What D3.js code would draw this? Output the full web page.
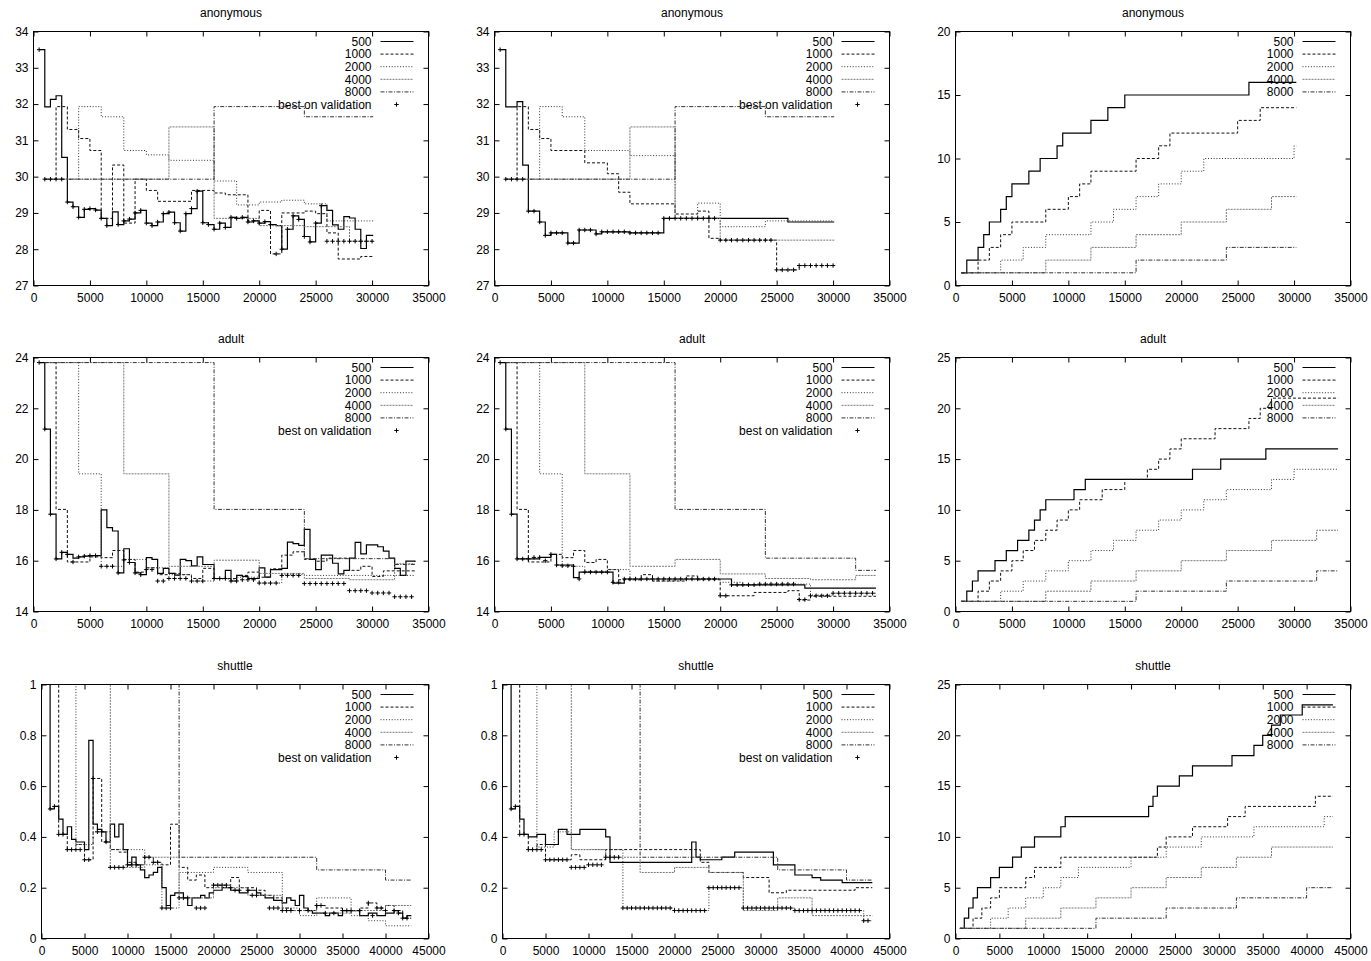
<!DOCTYPE html>
<html>
<head>
<meta charset="utf-8">
<script src="https://cdn.jsdelivr.net/npm/d3@7"></script>
<style>
body { margin: 0; background: #fff; }
svg text { font-family: "Liberation Sans", Arial, sans-serif; font-size: 12px; fill: #000; }
</style>
</head>
<body>
<div id="chart"></div>
<script>
// ---- tick labels ----
const xTicks35 = [0, 5000, 10000, 15000, 20000, 25000, 30000, 35000];
const xTicks45 = [0, 5000, 10000, 15000, 20000, 25000, 30000, 35000, 40000, 45000];
const yTicksAnon = [27, 28, 29, 30, 31, 32, 33, 34];
const yTicksAdult = [14, 16, 18, 20, 22, 24];
const yTicksShuttle = [0, 0.2, 0.4, 0.6, 0.8, 1];
const yTicks20 = [0, 5, 10, 15, 20];
const yTicks25 = [0, 5, 10, 15, 20, 25];

const seriesLabels = ["500", "1000", "2000", "4000", "8000"];
const bestLabel = "best on validation";

// ---- anonymous, column 1 ----
const anonA_500 = [[500,33.5],[1000,31.92],[1500,32.13],[2000,32.23],[2500,30.53],[3000,29.3],[3500,29.17],[4000,28.88],[4500,29.1],[5000,29.12],[5500,29.08],[6000,28.85],[6500,28.65],[7000,29.03],[7500,28.68],[8000,28.78],[8500,28.83],[9000,29.0],[9500,29.07],[10000,28.72],[10500,28.65],[11000,28.75],[11500,28.98],[12000,29.02],[12500,28.73],[13000,28.5],[13500,28.98],[14000,29.12],[14500,29.6],[15000,28.73],[15500,28.68],[16000,28.55],[16500,28.72],[17000,28.6],[17500,28.88],[18000,28.85],[18500,28.88],[19000,28.75],[19500,28.78],[20000,28.72],[20500,28.76],[21000,28.68],[21500,28.65],[22000,28.0],[22500,28.55],[23000,28.92],[23500,28.82],[24000,28.35],[24500,28.2],[25000,28.72],[25500,29.2],[26000,29.07],[26500,28.67],[27000,28.55],[27500,28.9],[28000,28.86],[28500,28.55],[29000,28.02],[29500,28.38],[30100,28.38]];
const anonA_1000 = [[1000,29.93],[2000,31.93],[3000,31.3],[4000,31.05],[5000,30.72],[6000,28.85],[7000,30.32],[8000,28.72],[9000,29.93],[10000,29.62],[11000,29.32],[14000,29.62],[16000,29.55],[17000,29.5],[19000,28.78],[20000,29.07],[21000,27.87],[22000,29.0],[24000,29.05],[25000,28.98],[26000,28.45],[27000,27.73],[29000,27.8],[30100,27.8]];
const anonA_2000 = [[2000,29.93],[4000,31.93],[6000,31.65],[8000,30.72],[10000,30.6],[12000,30.45],[16000,29.88],[18000,29.22],[20000,29.3],[22000,29.35],[24000,29.25],[26000,28.78],[30100,28.78]];
const anonA_4000 = [[1000,29.93],[12000,31.37],[16000,28.85],[20000,28.65],[24000,28.62],[28000,28.22],[30100,28.22]];
const anonA_8000 = [[1000,29.93],[16000,31.93],[24000,31.65],[30100,31.65]];
const anonA_best = [[500,33.5],[1000,29.93],[1500,29.93],[2000,29.93],[2500,29.93],[3000,29.3],[3500,29.17],[4000,28.88],[4500,29.1],[5000,29.12],[5500,29.08],[6000,28.85],[6500,28.65],[7500,28.68],[8000,28.78],[8500,28.83],[9000,29.0],[9500,29.07],[10000,28.72],[10500,28.65],[11000,28.75],[11500,28.98],[12000,29.02],[12500,28.73],[13000,28.5],[13500,28.98],[14000,29.12],[14500,29.6],[15000,28.73],[15500,28.68],[16000,28.55],[16500,28.72],[17000,28.6],[17500,28.88],[18000,28.85],[18500,28.88],[19000,28.75],[19500,28.78],[20000,28.72],[20500,28.76],[21000,28.68],[21500,27.87],[22000,28.0],[22500,28.55],[23000,28.92],[23500,28.82],[24000,28.35],[24500,28.2],[25000,28.72],[25500,29.2],[26000,28.22],[26500,28.22],[27000,28.22],[27500,28.22],[28000,28.22],[28500,28.22],[29000,28.22],[29500,28.22],[30000,28.22]];

// ---- anonymous, column 2 ----
const anonB_500 = [[500,33.5],[1000,31.92],[2000,32.07],[2500,30.32],[3000,29.05],[4000,28.75],[4500,28.38],[5000,28.45],[6500,28.17],[7500,28.53],[9000,28.42],[9500,28.48],[12000,28.45],[15000,28.85],[26000,28.75],[30100,28.75]];
const anonB_1000 = [[1000,29.93],[2000,31.93],[3000,31.3],[4000,31.05],[5000,30.72],[8000,30.38],[10000,30.08],[11000,29.57],[12000,29.25],[16000,28.97],[18000,29.05],[19000,28.3],[20000,28.25],[25000,27.43],[27000,27.55],[30100,27.55]];
const anonB_2000 = [[2000,29.93],[4000,31.93],[6000,31.65],[8000,30.72],[12000,30.58],[16000,28.85],[18000,29.27],[20000,28.62],[24000,28.78],[30100,28.78]];
const anonB_4000 = [[1000,29.93],[12000,31.37],[16000,28.85],[20000,28.25],[30100,28.25]];
const anonB_8000 = [[1000,29.93],[16000,31.93],[24000,31.65],[30100,31.65]];
const anonB_best = [[500,33.5],[1000,29.93],[1500,29.93],[2000,29.93],[2500,29.93],[3000,29.05],[3500,29.05],[4000,28.75],[4500,28.38],[5000,28.45],[5500,28.45],[6000,28.45],[6500,28.17],[7000,28.17],[7500,28.53],[8000,28.53],[8500,28.53],[9000,28.42],[9500,28.48],[10000,28.48],[10500,28.48],[11000,28.48],[11500,28.48],[12000,28.45],[12500,28.45],[13000,28.45],[13500,28.45],[14000,28.45],[14500,28.45],[15000,28.85],[15500,28.85],[16000,28.85],[16500,28.85],[17000,28.85],[17500,28.85],[18000,28.85],[18500,28.85],[19000,28.85],[19500,28.85],[20000,28.25],[20500,28.25],[21000,28.25],[21500,28.25],[22000,28.25],[22500,28.25],[23000,28.25],[23500,28.25],[24000,28.25],[24500,28.25],[25000,27.43],[25500,27.43],[26000,27.43],[26500,27.43],[27000,27.55],[27500,27.55],[28000,27.55],[28500,27.55],[29000,27.55],[29500,27.55],[30000,27.55]];

// ---- anonymous, column 3 ----
const anonC_500 = [[500,1],[1000,2],[2000,3],[2500,4],[3000,5],[4000,6],[4500,7],[5000,8],[6500,9],[7500,10],[9000,11],[9500,12],[12000,13],[13500,14],[15000,15],[26000,16],[30200,16]];
const anonC_1000 = [[500,1],[2000,2],[3000,3],[4000,4],[5000,5],[8000,6],[10000,7],[11000,8],[12000,9],[16000,10],[18000,11],[19000,12],[25000,13],[27000,14],[30200,14]];
const anonC_2000 = [[500,1],[4000,2],[6000,3],[8000,4],[12000,5],[14000,6],[16000,7],[18000,8],[20000,9],[22000,10],[30000,11],[30200,11]];
const anonC_4000 = [[500,1],[8000,2],[12000,3],[16000,4],[20000,5],[24000,6],[28000,7],[30200,7]];
const anonC_8000 = [[500,1],[16000,2],[24000,3],[30200,3]];

// ---- adult, column 1 ----
const adultA_500 = [[500,23.8],[1000,21.18],[1500,17.83],[2000,16.07],[2500,16.33],[3000,16.25],[3500,16.1],[4000,16.15],[4500,16.18],[5000,16.2],[6000,18.0],[6500,17.3],[7000,17.17],[7500,15.52],[8000,16.47],[8500,15.93],[9000,15.52],[9500,15.45],[10000,16.12],[10500,16.05],[11000,15.5],[11500,15.7],[12000,15.5],[12500,15.43],[13000,16.05],[13500,16.0],[14000,15.8],[14500,16.15],[15000,15.85],[16000,15.3],[17000,15.62],[17500,15.2],[18000,15.42],[18500,15.38],[19000,15.3],[20000,15.72],[20500,15.35],[21000,15.65],[22000,15.7],[22500,16.73],[23000,16.67],[23500,16.6],[24000,17.23],[24500,16.05],[25000,15.65],[25500,16.22],[26500,15.9],[27000,15.48],[27500,15.62],[28000,16.1],[28500,16.72],[29000,16.27],[29500,16.62],[30500,16.55],[31000,16.38],[31500,16.1],[32000,15.7],[32500,15.42],[33000,15.98],[33800,15.95]];
const adultA_1000 = [[1000,23.8],[2000,18.02],[3000,15.95],[5000,16.15],[6000,16.12],[7000,16.4],[8000,16.05],[9000,15.55],[10000,15.72],[11000,15.45],[12000,15.5],[13000,15.45],[14000,15.3],[15000,15.7],[16000,15.3],[18000,15.42],[19000,15.55],[20000,15.35],[21000,15.68],[22000,16.22],[23000,16.35],[24000,16.05],[25000,15.98],[26000,16.1],[28000,15.62],[29000,15.78],[30000,15.38],[31000,15.6],[33800,15.6]];
const adultA_2000 = [[1000,23.8],[4000,19.42],[6000,15.78],[8000,16.05],[10000,15.72],[12000,15.45],[14000,15.2],[16000,15.28],[18000,15.35],[20000,15.12],[22000,15.45],[24000,15.42],[33800,15.42]];
const adultA_4000 = [[1000,23.8],[8000,19.42],[12000,15.78],[16000,16.02],[20000,15.5],[24000,15.3],[28000,15.25],[32000,15.88],[33800,15.88]];
const adultA_8000 = [[1000,23.8],[16000,18.02],[24000,16.08],[32000,15.85],[33800,15.85]];
const adultA_best = [[500,23.8],[1000,21.18],[1500,17.83],[2000,16.07],[2500,16.33],[3000,16.25],[3500,15.95],[4000,16.15],[4500,16.18],[5000,16.2],[5500,16.2],[6000,15.78],[6500,15.78],[7000,15.78],[7500,15.52],[8000,16.03],[8500,15.93],[9000,15.52],[9500,15.45],[10000,15.65],[10500,15.65],[11000,15.2],[11500,15.2],[12000,15.3],[12500,15.3],[13000,15.3],[13500,15.3],[14000,15.2],[14500,15.2],[15000,15.2],[16000,15.3],[16500,15.3],[17000,15.3],[17500,15.2],[18000,15.2],[18500,15.25],[19000,15.25],[19500,15.25],[20000,15.12],[20500,15.12],[21000,15.12],[21500,15.12],[22000,15.42],[22500,15.42],[23000,15.42],[23500,15.42],[24000,15.1],[24500,15.1],[25000,15.1],[25500,15.1],[26000,15.1],[26500,15.1],[27000,15.1],[27500,15.1],[28000,14.82],[28500,14.82],[29000,14.82],[29500,14.82],[30000,14.73],[30500,14.73],[31000,14.73],[31500,14.73],[32000,14.58],[32500,14.58],[33000,14.58],[33500,14.58]];

// ---- adult, column 2 ----
const adultB_500 = [[500,23.8],[1000,21.18],[1500,17.83],[2000,16.07],[4000,16.13],[5000,16.25],[5500,15.83],[7000,15.33],[7500,15.55],[10500,15.12],[11500,15.28],[21000,15.05],[27500,14.92],[33800,14.92]];
const adultB_1000 = [[1000,23.8],[2000,18.02],[3000,15.95],[5000,16.25],[6000,16.12],[7000,16.4],[8000,15.93],[9000,16.05],[10000,15.65],[11000,15.25],[13000,15.45],[14000,15.2],[17000,15.4],[18000,15.25],[20000,14.62],[23000,14.75],[26000,14.82],[27000,14.45],[28000,14.6],[33800,14.6]];
const adultB_2000 = [[1000,23.8],[4000,19.42],[6000,15.78],[8000,15.58],[10000,15.65],[12000,15.25],[14000,15.2],[16000,15.25],[18000,15.3],[20000,15.15],[22000,15.05],[24000,15.08],[28000,14.65],[30000,14.72],[33800,14.72]];
const adultB_4000 = [[1000,23.8],[8000,19.42],[12000,15.78],[16000,16.05],[20000,15.48],[24000,15.3],[28000,15.25],[32000,15.42],[33800,15.42]];
const adultB_8000 = [[1000,23.8],[16000,18.02],[24000,16.1],[32000,15.62],[33800,15.62]];
const adultB_best = [[500,23.8],[1000,21.18],[1500,17.83],[2000,16.07],[2500,16.07],[3000,16.07],[3500,16.13],[4000,16.13],[4500,16.0],[5000,16.25],[5500,15.83],[6000,15.8],[6500,15.8],[7000,15.78],[7500,15.28],[8000,15.55],[8500,15.55],[9000,15.55],[9500,15.55],[10000,15.55],[10500,15.15],[11000,15.15],[11500,15.28],[12000,15.28],[12500,15.28],[13000,15.28],[13500,15.28],[14000,15.28],[14500,15.28],[15000,15.28],[15500,15.28],[16000,15.28],[16500,15.28],[17000,15.28],[17500,15.28],[18000,15.28],[18500,15.28],[19000,15.28],[19500,15.28],[20000,14.62],[20500,14.62],[21000,15.05],[21500,15.05],[22000,15.05],[22500,15.05],[23000,15.05],[23500,15.08],[24000,15.08],[24500,15.08],[25000,15.08],[25500,15.08],[26000,15.08],[26500,15.08],[27000,14.47],[27500,14.47],[28000,14.62],[28500,14.62],[29000,14.62],[29500,14.62],[30000,14.72],[30500,14.72],[31000,14.72],[31500,14.72],[32000,14.72],[32500,14.72],[33000,14.72],[33500,14.72]];

// ---- adult, column 3 ----
const adultC_500 = [[500,1],[1000,2],[1500,3],[2000,4],[3500,5],[4500,6],[5500,7],[6500,8],[7000,9],[7500,10],[8000,11],[10500,12],[11500,13],[21000,14],[23500,15],[27500,16],[33900,16]];
const adultC_1000 = [[500,1],[2000,2],[3000,3],[4000,4],[5000,5],[6000,6],[7000,7],[8000,8],[9000,9],[10000,10],[11000,11],[13000,12],[15000,13],[17000,14],[18000,15],[19000,16],[20000,17],[23000,18],[26000,19],[27000,20],[28000,21],[33900,21]];
const adultC_2000 = [[500,1],[4000,2],[6000,3],[8000,4],[10000,5],[12000,6],[14000,7],[16000,8],[18000,9],[20000,10],[22000,11],[24000,12],[28000,13],[30000,14],[33900,14]];
const adultC_4000 = [[500,1],[8000,2],[12000,3],[16000,4],[20000,5],[24000,6],[28000,7],[32000,8],[33900,8]];
const adultC_8000 = [[500,1],[16000,2],[24000,3],[32000,4],[33900,4]];

// ---- shuttle, column 1 ----
const shuttleA_500 = [[500,1.3],[1000,0.51],[1500,0.52],[2000,0.47],[2500,0.41],[3000,0.44],[3500,0.39],[4000,0.38],[5000,0.35],[5500,0.78],[6000,0.45],[6500,0.43],[7000,0.42],[7500,0.38],[8000,0.45],[8500,0.4],[9000,0.45],[9500,0.35],[10000,0.29],[10500,0.32],[11000,0.29],[11500,0.27],[12000,0.24],[12500,0.25],[13000,0.26],[13500,0.28],[14000,0.2],[14500,0.13],[15000,0.17],[15500,0.18],[16500,0.16],[17000,0.13],[17500,0.16],[18500,0.17],[19000,0.16],[19500,0.18],[20000,0.19],[21000,0.2],[22000,0.19],[23000,0.18],[24000,0.19],[25000,0.18],[25500,0.17],[26000,0.16],[27000,0.15],[28000,0.14],[28500,0.16],[29000,0.15],[29500,0.13],[30000,0.17],[30500,0.12],[31000,0.11],[31500,0.1],[33000,0.09],[33500,0.1],[34500,0.09],[35000,0.11],[36500,0.11],[37000,0.09],[38000,0.1],[39000,0.09],[40000,0.1],[41000,0.11],[41500,0.1],[42000,0.08],[42500,0.09],[43000,0.09]];
const shuttleA_1000 = [[1000,1.3],[2000,0.41],[3000,0.35],[4000,0.37],[5000,0.31],[6000,0.63],[7000,0.38],[8000,0.35],[9000,0.34],[10000,0.3],[11000,0.29],[12000,0.32],[13000,0.3],[14000,0.29],[15000,0.45],[16000,0.28],[17000,0.23],[18000,0.25],[19000,0.2],[20000,0.21],[22000,0.24],[23000,0.2],[25000,0.19],[26000,0.17],[27000,0.16],[28000,0.12],[29000,0.11],[32000,0.13],[33000,0.12],[35000,0.11],[37000,0.12],[38000,0.14],[39000,0.12],[40000,0.13],[41000,0.11],[42000,0.08],[43000,0.08]];
const shuttleA_2000 = [[2000,1.3],[4000,0.37],[6000,0.42],[8000,0.35],[10000,0.35],[12000,0.29],[14000,0.12],[16000,0.26],[20000,0.28],[24000,0.26],[28000,0.12],[30000,0.09],[32000,0.16],[36000,0.09],[38000,0.07],[40000,0.05],[43000,0.05]];
const shuttleA_4000 = [[4000,1.3],[8000,0.28],[12000,0.32],[16000,0.16],[20000,0.2],[24000,0.17],[28000,0.11],[32000,0.1],[36000,0.11],[40000,0.13],[43000,0.13]];
const shuttleA_8000 = [[8000,1.3],[16000,0.32],[32000,0.27],[40000,0.23],[43000,0.23]];
const shuttleA_best = [[1000,0.51],[1500,0.52],[2000,0.41],[2500,0.41],[3000,0.35],[3500,0.35],[4000,0.35],[4500,0.35],[5000,0.31],[5500,0.31],[6000,0.63],[6500,0.42],[7000,0.42],[7500,0.38],[8000,0.28],[8500,0.28],[9000,0.28],[9500,0.28],[10000,0.29],[10500,0.29],[11000,0.29],[12000,0.32],[12500,0.32],[13000,0.3],[13500,0.3],[14000,0.12],[14500,0.12],[15000,0.12],[16000,0.16],[16500,0.16],[17000,0.16],[18000,0.12],[18500,0.12],[19000,0.12],[20000,0.21],[20500,0.21],[21000,0.21],[21500,0.21],[22000,0.2],[22500,0.19],[23000,0.19],[24000,0.19],[24500,0.17],[25000,0.17],[26500,0.12],[27000,0.12],[27500,0.12],[28000,0.11],[28500,0.11],[29000,0.11],[30000,0.11],[31000,0.11],[32000,0.13],[32500,0.13],[33000,0.1],[34000,0.1],[35000,0.11],[35500,0.11],[36000,0.11],[37000,0.11],[38000,0.14],[38500,0.09],[39000,0.12],[39500,0.12],[40000,0.11],[41000,0.11],[41500,0.1],[42000,0.08],[42500,0.08]];

// ---- shuttle, column 2 ----
const shuttleB_500 = [[500,1.3],[1000,0.51],[1500,0.52],[2000,0.47],[2500,0.41],[3000,0.4],[4000,0.41],[5000,0.37],[6500,0.43],[7500,0.41],[9000,0.43],[12000,0.4],[12500,0.3],[22000,0.38],[22500,0.32],[23000,0.31],[25500,0.32],[27000,0.34],[31500,0.29],[34000,0.25],[36000,0.24],[37000,0.23],[39500,0.22],[43000,0.22]];
const shuttleB_1000 = [[1000,1.3],[2000,0.41],[3000,0.35],[4000,0.37],[5000,0.31],[8000,0.33],[9000,0.31],[12000,0.35],[23000,0.3],[24000,0.26],[28000,0.24],[31000,0.18],[33000,0.19],[41000,0.2],[43000,0.2]];
const shuttleB_2000 = [[2000,1.3],[4000,0.36],[6000,0.42],[8000,0.35],[14000,0.12],[20000,0.11],[24000,0.2],[28000,0.12],[34000,0.11],[42000,0.07],[43000,0.07]];
const shuttleB_4000 = [[4000,1.3],[8000,0.35],[12000,0.32],[16000,0.26],[20000,0.28],[24000,0.26],[28000,0.11],[32000,0.16],[36000,0.09],[43000,0.09]];
const shuttleB_8000 = [[8000,1.3],[16000,0.32],[32000,0.27],[40000,0.23],[43000,0.23]];
const shuttleB_best = [[1000,0.51],[1500,0.52],[2000,0.41],[2500,0.41],[3000,0.35],[3500,0.35],[4000,0.35],[4500,0.35],[5000,0.31],[5500,0.31],[6000,0.31],[6500,0.31],[7000,0.31],[7500,0.31],[8000,0.28],[8500,0.28],[9000,0.28],[9500,0.28],[10000,0.29],[10500,0.29],[11000,0.29],[11500,0.29],[12000,0.32],[12500,0.32],[13000,0.32],[13500,0.32],[14000,0.12],[14500,0.12],[15000,0.12],[15500,0.12],[16000,0.12],[16500,0.12],[17000,0.12],[17500,0.12],[18000,0.12],[18500,0.12],[19000,0.12],[19500,0.12],[20000,0.11],[20500,0.11],[21000,0.11],[21500,0.11],[22000,0.11],[22500,0.11],[23000,0.11],[23500,0.11],[24000,0.2],[24500,0.2],[25000,0.2],[25500,0.2],[26000,0.2],[26500,0.2],[27000,0.2],[27500,0.2],[28000,0.12],[28500,0.12],[29000,0.12],[29500,0.12],[30000,0.12],[30500,0.12],[31000,0.12],[31500,0.12],[32000,0.12],[32500,0.12],[33000,0.12],[33500,0.12],[34000,0.11],[34500,0.11],[35000,0.11],[35500,0.11],[36000,0.11],[36500,0.11],[37000,0.11],[37500,0.11],[38000,0.11],[38500,0.11],[39000,0.11],[39500,0.11],[40000,0.11],[40500,0.11],[41000,0.11],[41500,0.11],[42000,0.07],[42500,0.07]];

// ---- shuttle, column 3 ----
const shuttleC_500 = [[500,1],[1000,2],[1500,3],[2000,4],[2500,5],[4000,6],[5000,7],[6500,8],[7500,9],[9000,10],[12000,11],[12500,12],[22000,13],[22500,14],[23000,15],[25500,16],[27000,17],[31500,18],[34000,19],[35000,20],[36000,21],[37000,22],[39500,23],[43000,23]];
const shuttleC_1000 = [[500,1],[2000,2],[3000,3],[4000,4],[5000,5],[8000,6],[9000,7],[12000,8],[23000,9],[24000,10],[27000,11],[31000,12],[33000,13],[41000,14],[43000,14]];
const shuttleC_2000 = [[500,1],[4000,2],[6000,3],[8000,4],[10000,5],[12000,6],[14000,7],[20000,8],[24000,9],[28000,10],[34000,11],[42000,12],[43000,12]];
const shuttleC_4000 = [[500,1],[8000,2],[12000,3],[16000,4],[20000,5],[24000,6],[28000,7],[32000,8],[36000,9],[43000,9]];
const shuttleC_8000 = [[500,1],[16000,2],[24000,3],[32000,4],[40000,5],[43000,5]];

// 线型：gnuplot 单色风格
const lineStyles = [
    {stroke: "#000", width: 1.2, dash: null},
    {stroke: "#111", width: 1, dash: "3,2"},
    {stroke: "#333", width: 1, dash: "1,1.8"},
    {stroke: "#777", width: 1, dash: "2,1"},
    {stroke: "#333", width: 1, dash: "4,1.5,1,1.5"}
];

const panels = [
    {title: "anonymous", row: 0, col: 0, xMax: 35000, xTicks: xTicks35, yDomain: [27, 34], yTicks: yTicksAnon,
     series: [anonA_500, anonA_1000, anonA_2000, anonA_4000, anonA_8000], best: anonA_best},
    {title: "anonymous", row: 0, col: 1, xMax: 35000, xTicks: xTicks35, yDomain: [27, 34], yTicks: yTicksAnon,
     series: [anonB_500, anonB_1000, anonB_2000, anonB_4000, anonB_8000], best: anonB_best},
    {title: "anonymous", row: 0, col: 2, xMax: 35000, xTicks: xTicks35, yDomain: [0, 20], yTicks: yTicks20,
     series: [anonC_500, anonC_1000, anonC_2000, anonC_4000, anonC_8000], best: null},
    {title: "adult", row: 1, col: 0, xMax: 35000, xTicks: xTicks35, yDomain: [14, 24], yTicks: yTicksAdult,
     series: [adultA_500, adultA_1000, adultA_2000, adultA_4000, adultA_8000], best: adultA_best},
    {title: "adult", row: 1, col: 1, xMax: 35000, xTicks: xTicks35, yDomain: [14, 24], yTicks: yTicksAdult,
     series: [adultB_500, adultB_1000, adultB_2000, adultB_4000, adultB_8000], best: adultB_best},
    {title: "adult", row: 1, col: 2, xMax: 35000, xTicks: xTicks35, yDomain: [0, 25], yTicks: yTicks25,
     series: [adultC_500, adultC_1000, adultC_2000, adultC_4000, adultC_8000], best: null},
    {title: "shuttle", row: 2, col: 0, xMax: 45000, xTicks: xTicks45, yDomain: [0, 1], yTicks: yTicksShuttle,
     series: [shuttleA_500, shuttleA_1000, shuttleA_2000, shuttleA_4000, shuttleA_8000], best: shuttleA_best},
    {title: "shuttle", row: 2, col: 1, xMax: 45000, xTicks: xTicks45, yDomain: [0, 1], yTicks: yTicksShuttle,
     series: [shuttleB_500, shuttleB_1000, shuttleB_2000, shuttleB_4000, shuttleB_8000], best: shuttleB_best},
    {title: "shuttle", row: 2, col: 2, xMax: 45000, xTicks: xTicks45, yDomain: [0, 25], yTicks: yTicks25,
     series: [shuttleC_500, shuttleC_1000, shuttleC_2000, shuttleC_4000, shuttleC_8000], best: null}
];

// 版面
const rowTop = [31, 357, 684];
const rowBottom = [285, 611, 938];
const colLeft = [[33, 494, 955], [33, 494, 955], [41, 502, 955]];
const colRight = [428, 889, 1350];

const svg = d3.select("#chart")
    .append("svg")
    .attr("width", 1371)
    .attr("height", 961);

const fmt = d3.format("~g");
const plus = "M-2.2,0H2.2M0,-2.2V2.2";

function styleLine(sel, st) {
    sel.attr("fill", "none")
        .attr("stroke", st.stroke)
        .attr("stroke-width", st.width)
        .attr("stroke-dasharray", st.dash);
}

function drawPanel(p, idx) {
    const left = colLeft[p.row][p.col], right = colRight[p.col];
    const top = rowTop[p.row], bottom = rowBottom[p.row];
    const width = right - left, height = bottom - top;

    const g = svg.append("g")
        .attr("transform", `translate(${left + 0.5}, ${top + 0.5})`);

    const x = d3.scaleLinear().domain([0, p.xMax]).range([0, width]);
    const y = d3.scaleLinear().domain(p.yDomain).range([height, 0]);

    // 标题
    g.append("text")
        .attr("x", width / 2)
        .attr("y", -15)
        .attr("text-anchor", "middle")
        .text(p.title);

    // 四边向内的刻度
    const noDomain = s => s.select(".domain").remove();
    g.append("g")
        .attr("transform", `translate(0, ${height})`)
        .call(d3.axisBottom(x).tickValues(p.xTicks).tickSize(-5).tickPadding(8).tickFormat(fmt))
        .call(noDomain);
    g.append("g")
        .call(d3.axisTop(x).tickValues(p.xTicks).tickSize(-5).tickFormat(""))
        .call(noDomain);
    g.append("g")
        .call(d3.axisLeft(y).tickValues(p.yTicks).tickSize(-5).tickPadding(5).tickFormat(fmt))
        .call(noDomain);
    g.append("g")
        .attr("transform", `translate(${width}, 0)`)
        .call(d3.axisRight(y).tickValues(p.yTicks).tickSize(-5).tickFormat(""))
        .call(noDomain);
    g.selectAll(".tick line").attr("stroke", "#000");

    // 边框
    g.append("rect")
        .attr("width", width)
        .attr("height", height)
        .attr("fill", "none")
        .attr("stroke", "#000");

    // 图例
    seriesLabels.forEach((lab, i) => {
        const ly = 10 + 12.6 * i;
        g.append("text")
            .attr("x", width - 57)
            .attr("y", ly)
            .attr("dy", "0.35em")
            .attr("text-anchor", "end")
            .text(lab);
        g.append("line")
            .attr("x1", width - 48).attr("x2", width - 15)
            .attr("y1", ly).attr("y2", ly)
            .call(styleLine, lineStyles[i]);
    });
    if (p.best) {
        const ly = 10 + 12.6 * 5;
        g.append("text")
            .attr("x", width - 57)
            .attr("y", ly)
            .attr("dy", "0.35em")
            .attr("text-anchor", "end")
            .text(bestLabel);
        g.append("path")
            .attr("d", plus)
            .attr("transform", `translate(${width - 32}, ${ly})`)
            .attr("stroke", "#000")
            .attr("fill", "none");
    }

    // 裁剪区域
    const clipId = "clip" + idx;
    g.append("clipPath").attr("id", clipId)
        .append("rect").attr("width", width).attr("height", height);
    const plot = g.append("g").attr("clip-path", `url(#${clipId})`);

    // 阶梯折线
    const line = d3.line()
        .x(d => x(d[0]))
        .y(d => y(d[1]))
        .curve(d3.curveStepAfter);

    p.series.forEach((s, i) => {
        plot.append("path")
            .datum(s)
            .attr("d", line)
            .call(styleLine, lineStyles[i]);
    });

    // 验证集最优点
    if (p.best) {
        plot.selectAll(".best")
            .data(p.best)
            .enter().append("path")
            .attr("class", "best")
            .attr("d", plus)
            .attr("transform", d => `translate(${x(d[0])}, ${y(d[1])})`)
            .attr("stroke", "#000")
            .attr("fill", "none");
    }
}

panels.forEach(drawPanel);
</script>
</body>
</html>
